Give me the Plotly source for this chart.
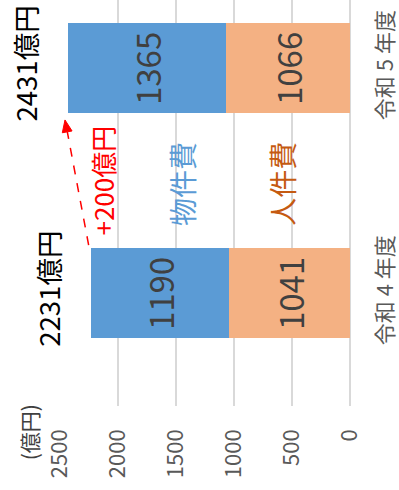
import plotly.graph_objects as go

categories = ["令和 4 年度", "令和 5 年度"]
jinkenhi = [1041, 1066]      # 人件費
bukkenhi = [1190, 1365]      # 物件費
totals = [a + b for a, b in zip(jinkenhi, bukkenhi)]
tick_vals = [0, 500, 1000, 1500, 2000, 2500]

FONT = "Noto Sans CJK JP"
BLUE = "#5B9BD5"
ORANGE = "#F4B183"
GRID = "#D9D9D9"

fig = go.Figure()
fig.add_trace(go.Bar(
    y=categories, x=jinkenhi, orientation="h", name="人件費",
    marker=dict(color=ORANGE, line=dict(width=0)), width=0.4,
    text=[str(v) for v in jinkenhi], textposition="inside", textangle=-90,
    insidetextanchor="middle", constraintext="none",
    textfont=dict(family=FONT, size=33, color="#404040"),
))
fig.add_trace(go.Bar(
    y=categories, x=bukkenhi, orientation="h", name="物件費",
    marker=dict(color=BLUE, line=dict(width=0)), width=0.4,
    text=[str(v) for v in bukkenhi], textposition="inside", textangle=-90,
    insidetextanchor="middle", constraintext="none",
    textfont=dict(family=FONT, size=33, color="#404040"),
))

annotations = []
for i, t in enumerate(totals):
    annotations.append(dict(
        x=t, y=i, xref="x", yref="y", text=f"{t}億円", showarrow=False,
        textangle=-90, xanchor="center", yanchor="middle",
        xshift=-43, yshift=5,
        font=dict(family=FONT, size=27.5, color="#000000"),
    ))

diff = totals[1] - totals[0]
annotations.append(dict(
    x=2133, y=0.5, xref="x", yref="y", text=f"+{diff}億円", showarrow=False,
    textangle=-90, xanchor="center", yanchor="middle",
    font=dict(family=FONT, size=26, color="#FF0000"),
))
annotations.append(dict(
    x=1450, y=0.486, xref="x", yref="y", text="物件費", showarrow=False,
    textangle=-90, xanchor="center", yanchor="middle",
    font=dict(family=FONT, size=28, color=BLUE),
))
annotations.append(dict(
    x=589, y=0.486, xref="x", yref="y", text="人件費", showarrow=False,
    textangle=-90, xanchor="center", yanchor="middle",
    font=dict(family=FONT, size=28, color="#C55A11"),
))
annotations.append(dict(
    x=-0.106, y=-0.064, xref="paper", yref="paper", text="(億円)", showarrow=False,
    textangle=-90, xanchor="center", yanchor="middle",
    font=dict(family=FONT, size=21, color="#404040"),
))

shapes = [
    dict(type="line", xref="x", yref="y", x0=2253, y0=0.215, x1=2437, y1=0.718,
         line=dict(color="#FF0000", width=1.5, dash="dash")),
    dict(type="path", xref="x", yref="y",
         path="M 2457 0.771 L 2396 0.722 L 2480 0.714 Z",
         fillcolor="#FF0000", line=dict(color="#FF0000", width=1)),
]

fig.update_layout(
    barmode="stack",
    width=399, height=490,
    margin=dict(l=60, r=46, t=0, b=84),
    paper_bgcolor="white", plot_bgcolor="white",
    showlegend=False,
    bargap=0.6,
    annotations=annotations,
    shapes=shapes,
    xaxis=dict(
        range=[2500, 0], tickvals=tick_vals, ticktext=[str(v) for v in tick_vals],
        tickangle=-90, showgrid=True, gridcolor=GRID, gridwidth=2,
        zeroline=True, zerolinecolor=GRID, zerolinewidth=2,
        showline=False, ticks="", ticklabelstandoff=18,
        tickfont=dict(family=FONT, size=22, color="#595959"),
    ),
    yaxis=dict(
        type="category", range=[-0.5, 1.304], side="right",
        tickangle=-90, showgrid=False, zeroline=False, showline=False, ticks="",
        ticklabelstandoff=20,
        tickfont=dict(family=FONT, size=22, color="#595959"),
    ),
)

fig.write_html("out.html")
